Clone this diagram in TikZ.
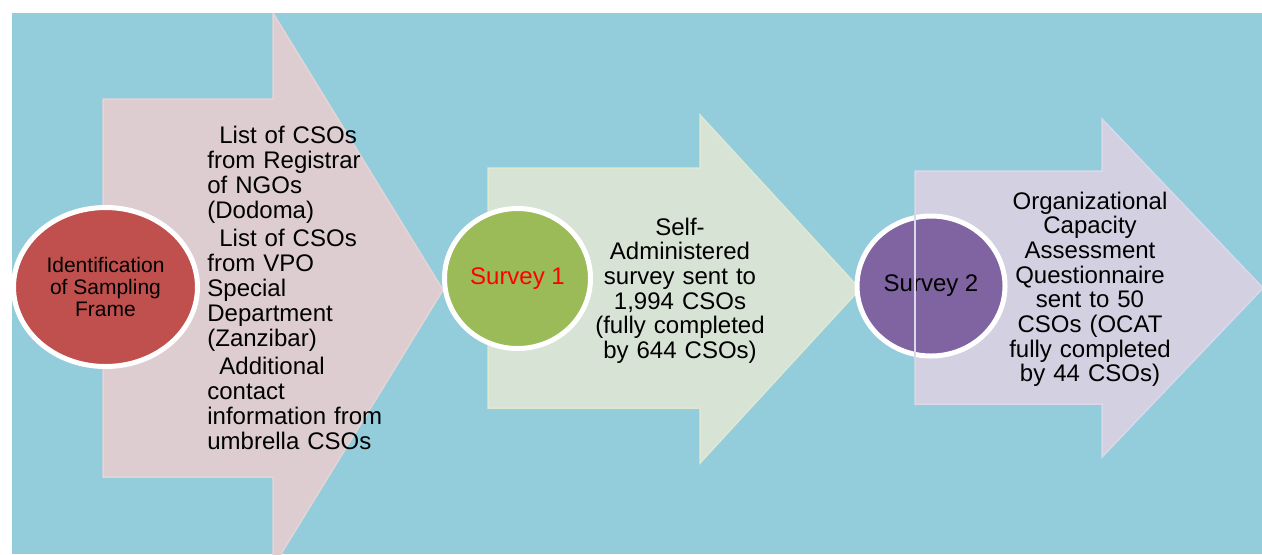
\documentclass[tikz,border=0pt]{standalone}
\usepackage{fontspec}
\setmainfont{Liberation Sans}
\usetikzlibrary{shapes.geometric}

\definecolor{bgblue}{RGB}{147,205,220}
\definecolor{pinkarrow}{RGB}{221,205,208}
\definecolor{pinkedge}{RGB}{229,212,214}
\definecolor{greenarrow}{RGB}{215,227,212}
\definecolor{greenedge}{RGB}{223,232,210}
\definecolor{lilacarrow}{RGB}{210,208,225}
\definecolor{lilacedge}{RGB}{219,217,233}
\definecolor{redstage}{RGB}{192,80,77}
\definecolor{greenstage}{RGB}{155,187,89}
\definecolor{purplestage}{RGB}{128,100,162}

\tikzset{
    stage/.style={ellipse, draw=white, line width=2.5pt, inner sep=0pt, align=center,
        font=\fontsize{12}{14}\selectfont},
    steptext/.style={text width=#1, inner sep=0pt, font=\fontsize{12}{12.35}\selectfont},
    bigarrow/.style={line width=0.75pt, line join=miter},
}

\begin{document}
\begin{tikzpicture}[x=0.5pt, y=-0.5pt]

    \useasboundingbox (0,0) rectangle (1262,554);
    \fill[white] (0,0) rectangle (1262,554);

    % Draw the blue background
    \fill[bgblue] (12,13) rectangle (1262,554);

    % Draw the three big arrows, cut at the edge of the background
    \begin{scope}
        \clip (12,13) rectangle (1262,554);
        \filldraw[bigarrow, fill=pinkarrow, draw=pinkedge]
            (103,99) -- (273,99) -- (273,13) -- (443,290) -- (273,567) -- (273,477) -- (103,477) -- cycle;
        \filldraw[bigarrow, fill=greenarrow, draw=greenedge]
            (488,168) -- (700,168) -- (700,115) -- (860,289) -- (700,463) -- (700,408) -- (488,408) -- cycle;
        \filldraw[bigarrow, fill=lilacarrow, draw=lilacedge]
            (915,171) -- (1102,171) -- (1102,119) -- (1263,288) -- (1102,457) -- (1102,404) -- (915,404) -- cycle;
    \end{scope}

    % Draw the stage circles
    \node[stage, fill=redstage, minimum width=92pt, minimum height=79.5pt,
        font=\fontsize{10.5}{11}\selectfont] (frame) at (105.5,287) {Identification\\of Sampling\\Frame};
    \node[stage, fill=greenstage, minimum width=73pt, minimum height=70pt, text=red] (survey1) at (517.5,278.5) {Survey 1};
    \node[stage, fill=purplestage, minimum width=74pt, minimum height=70pt] (survey2) at (931,286) {Survey 2};

    % Edge of the last arrow showing through the circle
    \draw[lilacedge, line width=0.9pt] (915,215) -- (915,358);

    % Draw the text of each arrow
    \node[steptext=100pt, align=left, anchor=base west, font=\fontsize{12}{12.5}\selectfont] (sources) at (207,143)
        {\hspace*{6pt}List of CSOs\\from Registrar\\of NGOs\\(Dodoma)\\[1.5pt]\hspace*{6pt}List of CSOs\\from VPO\\Special\\Department\\(Zanzibar)\\[1.5pt]\hspace*{6pt}Additional\\contact\\information from\\umbrella CSOs};
    \node[steptext=100pt, align=center, anchor=base] (selfadmin) at (680,235)
        {Self-\\Administered\\survey sent to\\1,994 CSOs\\(fully completed\\by 644 CSOs)};
    \node[steptext=100pt, align=center, anchor=base] (ocat) at (1090,209)
        {Organizational\\Capacity\\Assessment\\Questionnaire\\sent to 50\\CSOs (OCAT\\fully completed\\by 44 CSOs)};

\end{tikzpicture}
\end{document}
